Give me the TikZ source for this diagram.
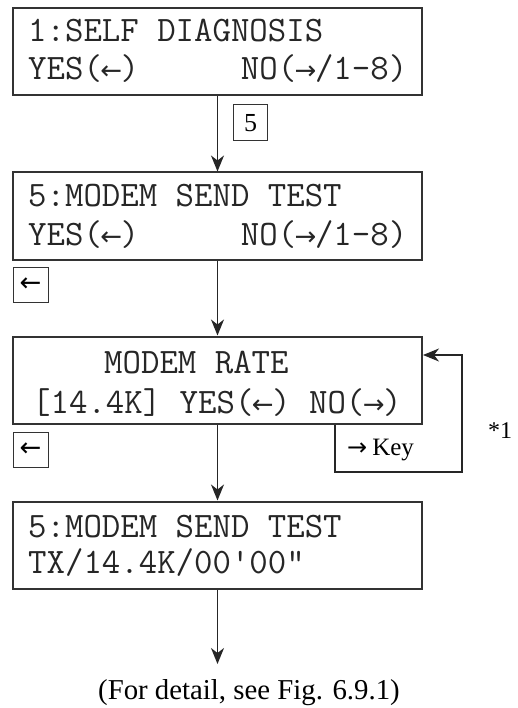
\documentclass[tikz,border=0pt]{standalone}
\usepackage{fontspec}
\setmainfont{Liberation Serif}
\newfontfamily\arrowfont{DejaVu Sans}
\usetikzlibrary{arrows.meta,calc}

% стрелки внутри строки дисплея (ширина одного знака)
\newcommand{\lar}{\makebox[0.525em]{\arrowfont\fontsize{26}{26}\selectfont ←}}
\newcommand{\rar}{\makebox[0.525em]{\arrowfont\fontsize{26}{26}\selectfont →}}

\tikzset{
    lcd/.style={draw=black!80, line width=2pt, minimum width=409pt,
        minimum height=87pt, inner sep=0pt},
    lcdtext/.style={anchor=base west, inner sep=0pt, text=black!85,
        font=\ttfamily\fontsize{35.8}{38}\selectfont},
    keybox/.style={draw=black!80, line width=1pt, inner sep=0pt},
    conn/.style={draw=black!85, line width=1.3pt},
    note/.style={anchor=base west, inner sep=0pt, font=\fontsize{25}{27}\selectfont}
}

\begin{document}
\begin{tikzpicture}[x=1pt, y=-1pt,
        >={Stealth[length=16pt, width=13pt, inset=5pt]}]

        \useasboundingbox (0,0) rectangle (517,708);

        % --- Экраны дисплея ---
        \node[lcd] (s1) at (217.5,52) {};
        \node[lcd] (s2) at (217.5,216) {};
        \node[lcd] (s3) at (217.5,380) {};
        \node[lcd] (s4) at (217.5,545) {};

        % --- Тексты на экранах ---
        \node[lcdtext] (s1a) at (28,42) {1:SELF DIAGNOSIS};
        \node[lcdtext] (s1b) at (28,80) {\makebox[379pt]{YES(\lar)\hfill NO(\rar/1-8)}};
        \node[lcdtext] (s2a) at (28,207) {5:MODEM SEND TEST};
        \node[lcdtext] (s2b) at (28,245) {\makebox[379pt]{YES(\lar)\hfill NO(\rar/1-8)}};
        \node[lcdtext] (s3a) at (104,373) {MODEM RATE};
        \node[lcdtext] (s3b) at (32,413) {[14.4K] YES(\lar) NO(\rar)};
        \node[lcdtext] (s4a) at (28,537) {5:MODEM SEND TEST};
        \node[lcdtext] (s4b) at (28,573) {TX/14.4K/00'00"};

        % --- Клавиши ---
        \node[keybox, minimum width=34pt, minimum height=36pt,
            font=\fontsize{26}{26}\selectfont] (k5) at (250.5,123) {5};
        \node[keybox, minimum size=35pt] (kl1) at (30.5,284.5)
            {\arrowfont\fontsize{26}{26}\selectfont ←};
        \node[keybox, minimum size=35pt] (kl2) at (30.5,449.5)
            {\arrowfont\fontsize{26}{26}\selectfont ←};

        % --- Переходы между экранами ---
        \draw[conn, ->] (s1.south) -- (s2.north);
        \draw[conn, ->] (s2.south) -- (s3.north);
        \draw[conn, ->] (s3.south) -- (s4.north);
        \coordinate (fin) at (217.5,664);
        \draw[conn, ->] (s4.south) -- (fin);

        % --- Возврат по клавише -> ---
        \coordinate (kb) at (335,472);
        \coordinate (kr) at (462,472);
        \draw[conn, ->] (s3.south -| kb) -- (kb) -- (kr)
            |- ([yshift=25pt]s3.east);
        \node[note] (key) at (347,455)
            {{\arrowfont\fontsize{24}{24}\selectfont →}\hspace{5pt}Key};
        \node[note, font=\fontsize{24}{26}\selectfont] (star) at (488,438) {*1};

        % --- Подпись ---
        \node[note, font=\fontsize{28.8}{30}\selectfont] (detail) at (98,699)
            {(For detail, see Fig. 6.9.1)};

\end{tikzpicture}
\end{document}
